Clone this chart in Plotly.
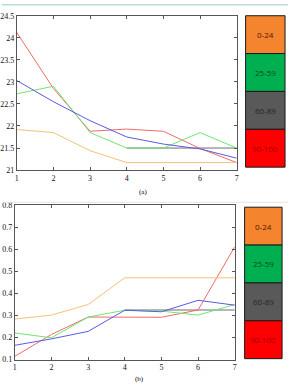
import plotly.graph_objects as go

x_steps = [1, 2, 3, 4, 5, 6, 7]

# Panel (a)
a_gray = [None, None, None, 21.5, 21.5, 21.5, 21.5]
a_red = [24.12, 22.85, 21.88, 21.93, 21.88, 21.49, 21.17]
a_green = [22.73, 22.9, 21.85, 21.5, 21.5, 21.85, 21.5]
a_blue = [23.03, 22.55, 22.12, 21.75, 21.59, 21.48, 21.27]
a_orange = [21.92, 21.85, 21.44, 21.17, 21.17, 21.17, 21.17]

# Panel (b)
b_gray = [None, None, None, 0.325, 0.325, 0.325, 0.325]
b_red = [0.115, 0.214, 0.293, 0.293, 0.292, 0.325, 0.612]
b_green = [0.221, 0.199, 0.293, 0.324, 0.32, 0.302, 0.35]
b_blue = [0.165, 0.194, 0.228, 0.324, 0.317, 0.369, 0.347]
b_orange = [0.284, 0.302, 0.35, 0.471, 0.471, 0.471, 0.471]

legend_labels = ["0-24", "25-59", "60-89", "90-100"]
legend_fill = ["#f5842f", "#00b050", "#595959", "#ff0000"]
legend_text = ["#4a1a00", "#004a1a", "#262626", "#a00000"]

line_colors = {"gray": "#6e6e6e", "red": "#f06a6a", "green": "#6ee66e",
               "blue": "#5a5ae6", "orange": "#f2c27a"}

W, H = 290, 391

def px(x):
    return x / W

def py(y):
    return 1 - y / H

fig = go.Figure()

panels = [
    ("x", "y", [a_gray, a_red, a_green, a_blue, a_orange]),
    ("x2", "y2", [b_gray, b_red, b_green, b_blue, b_orange]),
]
names = ["gray", "red", "green", "blue", "orange"]
for xa, ya, series in panels:
    for nm, vals in zip(names, series):
        fig.add_trace(go.Scatter(x=x_steps, y=vals, mode="lines", xaxis=xa, yaxis=ya,
                                 line=dict(color=line_colors[nm], width=1),
                                 showlegend=False, hoverinfo="skip"))

tickfont = dict(family="Liberation Serif", size=8, color="#111")
common_x = dict(range=[1, 7], tickvals=x_steps, ticks="inside", ticklen=3, mirror="ticks",
                showline=True, linecolor="#555", linewidth=1, showgrid=False, zeroline=False,
                tickfont=tickfont, tickcolor="#555")
common_y = dict(ticks="inside", ticklen=3, mirror="ticks", showline=True, linecolor="#555",
                linewidth=1, showgrid=False, zeroline=False, tickfont=tickfont, tickcolor="#555")

fig.update_layout(
    width=W, height=H, margin=dict(l=0, r=0, t=0, b=0),
    paper_bgcolor="white", plot_bgcolor="white",
    xaxis=dict(domain=[px(15), px(238)], anchor="y", **common_x),
    yaxis=dict(domain=[py(170), py(12)], anchor="x", range=[21, 24.5],
               tickvals=[21, 21.5, 22, 22.5, 23, 23.5, 24, 24.5], **common_y),
    xaxis2=dict(domain=[px(13), px(236)], anchor="y2", **common_x),
    yaxis2=dict(domain=[py(364), py(206)], anchor="x2", range=[0.1, 0.8],
                tickvals=[0.1, 0.2, 0.3, 0.4, 0.5, 0.6, 0.7, 0.8], **common_y),
)

shapes = []
annotations = []
# top teal line and separator
shapes.append(dict(type="rect", xref="paper", yref="paper", x0=0, x1=1, y0=py(1.5), y1=1,
                   fillcolor="#b9dcd8", line=dict(width=0)))
shapes.append(dict(type="line", xref="paper", yref="paper", x0=0, x1=1, y0=py(203), y1=py(203),
                   line=dict(color="#e4e4e4", width=1)))

for (x0, x1, y0, y1) in [(247, 287, 12, 167), (246, 284, 208, 363)]:
    h = (y1 - y0) / len(legend_labels)
    for i, (lab, fc, tc) in enumerate(zip(legend_labels, legend_fill, legend_text)):
        ya0 = y0 + i * h
        ya1 = ya0 + h
        shapes.append(dict(type="rect", xref="paper", yref="paper",
                           x0=px(x0), x1=px(x1), y0=py(ya1), y1=py(ya0),
                           fillcolor=fc, line=dict(color="#1a1a1a", width=1)))
        annotations.append(dict(xref="paper", yref="paper", x=px((x0 + x1) / 2), y=py((ya0 + ya1) / 2),
                                text=lab, showarrow=False, xanchor="center", yanchor="middle",
                                font=dict(family="Open Sans", size=8, color=tc)))

annotations.append(dict(xref="paper", yref="paper", x=px(143), y=py(192), text="(a)", showarrow=False,
                        xanchor="center", yanchor="middle",
                        font=dict(family="Liberation Serif", size=7, color="#000")))
annotations.append(dict(xref="paper", yref="paper", x=px(139), y=py(384), text="(b)", showarrow=False,
                        xanchor="center", yanchor="middle",
                        font=dict(family="Liberation Serif", size=7, color="#000")))

fig.update_layout(shapes=shapes, annotations=annotations)
fig.write_html("out.html")
